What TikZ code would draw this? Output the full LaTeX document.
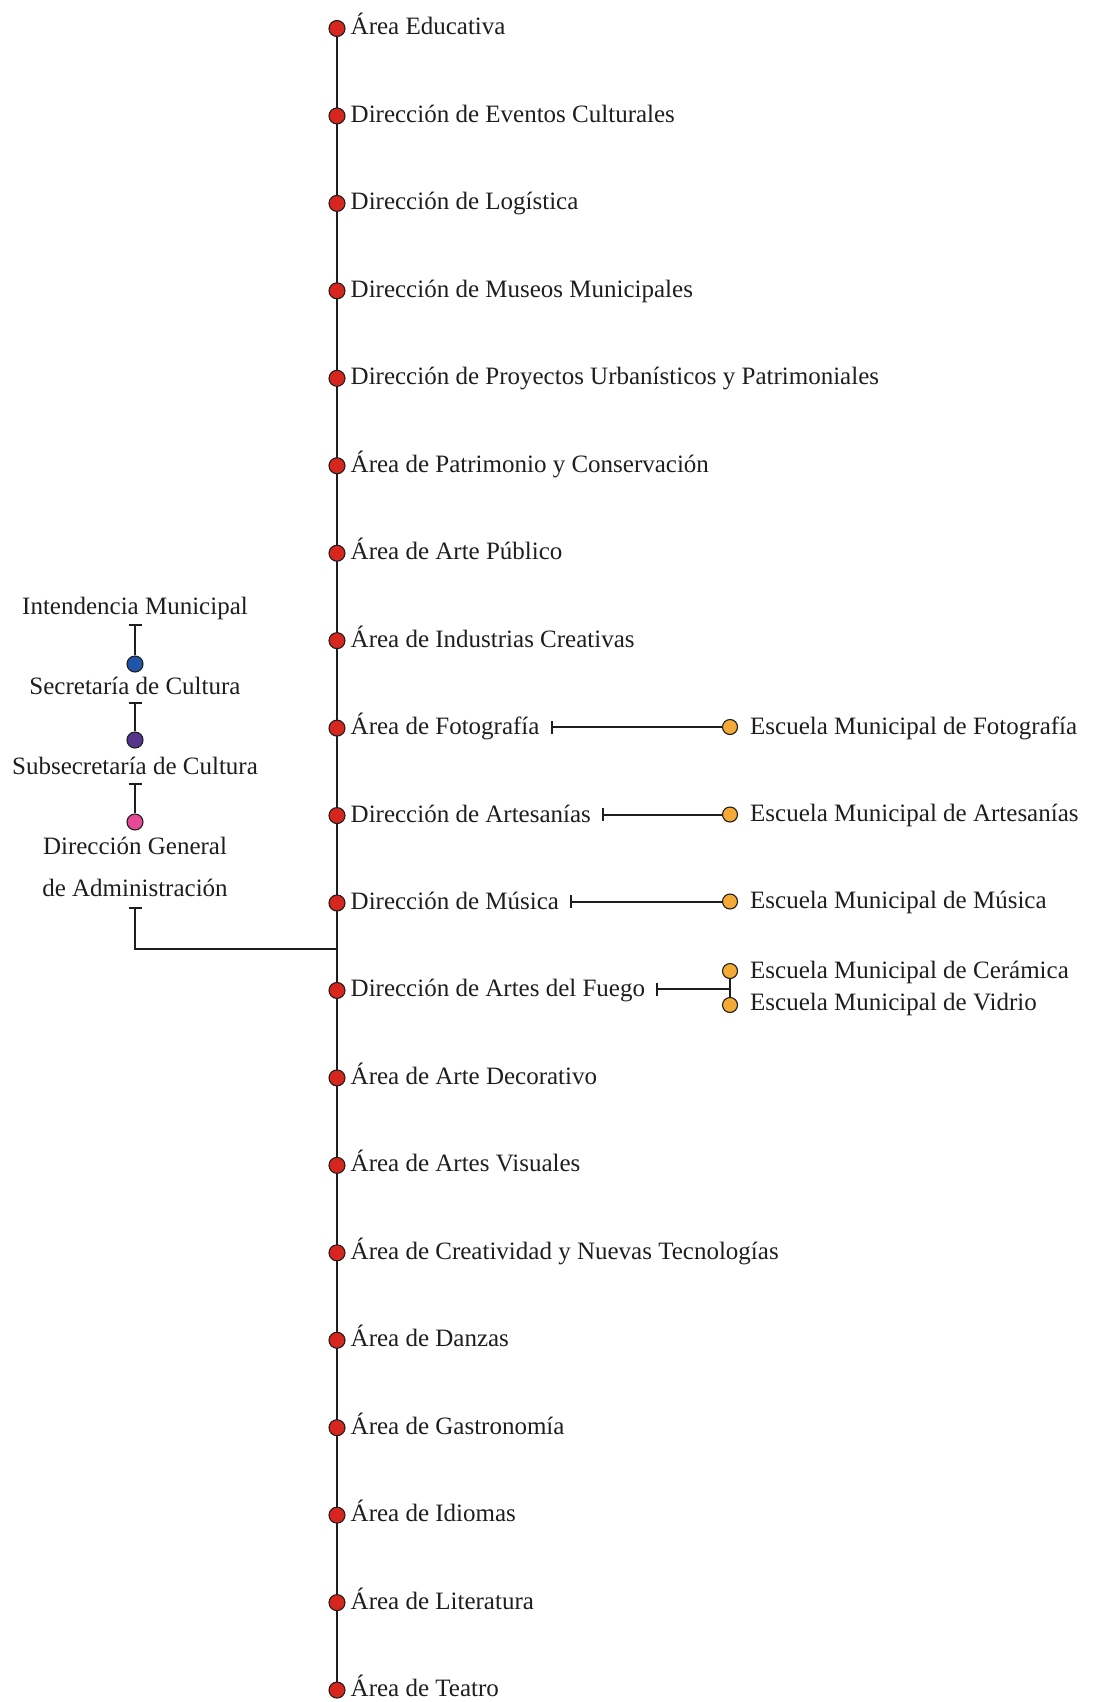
\documentclass[tikz,border=0pt]{standalone}
\usepackage{fontspec}
\setmainfont{Liberation Serif}
\usetikzlibrary{arrows.meta,backgrounds}
\definecolor{reddot}{RGB}{214,38,30}
\definecolor{bluedot}{RGB}{32,84,168}
\definecolor{purpledot}{RGB}{84,52,140}
\definecolor{pinkdot}{RGB}{232,72,152}
\definecolor{orangedot}{RGB}{245,170,55}
\definecolor{ink}{RGB}{30,30,30}
\begin{document}
\begin{tikzpicture}[x=1pt,y=-1pt,
  dotnode/.style={circle, draw=ink, line width=1.1pt, minimum size=16pt, inner sep=0pt},
  rdot/.style={dotnode, fill=reddot},
  odot/.style={dotnode, fill=orangedot, minimum size=15pt},
  lbl/.style={anchor=base west, inner sep=0pt, text=ink, font=\fontsize{25}{30}\selectfont},
  clbl/.style={anchor=base, inner sep=0pt, text=ink, font=\fontsize{25}{30}\selectfont},
  conn/.style={line width=2pt, draw=ink},
  teeconn/.style={conn, {Bar[width=13pt,line width=2pt]}-}
]
\useasboundingbox (0,0) rectangle (1097,1702);

% main column
\foreach \t [count=\i] in {Área Educativa, Dirección de Eventos Culturales, Dirección de Logística, Dirección de Museos Municipales, Dirección de Proyectos Urbanísticos y Patrimoniales, Área de Patrimonio y Conservación, Área de Arte Público, Área de Industrias Creativas, Área de Fotografía, Dirección de Artesanías, Dirección de Música, Dirección de Artes del Fuego, Área de Arte Decorativo, Área de Artes Visuales, Área de Creatividad y Nuevas Tecnologías, Área de Danzas, Área de Gastronomía, Área de Idiomas, Área de Literatura, Área de Teatro}{
  \pgfmathsetmacro{\yy}{28.5+87.45*(\i-1)}
  \node[rdot] (m\i) at (337,\yy) {};
  \node[lbl] (l\i) at (350.5,\yy+6.5) {\t};
}

% schools
\node[odot] (o9) at (730,727) {};
\node[lbl] (s9) at (750,734) {Escuela Municipal de Fotografía};
\node[odot] (o10) at (730,814.5) {};
\node[lbl] (s10) at (750,821.5) {Escuela Municipal de Artesanías};
\node[odot] (o11) at (730,901.5) {};
\node[lbl] (s11) at (750,908.5) {Escuela Municipal de Música};
\node[odot] (oc) at (730,971) {};
\node[lbl] (sc) at (750,978) {Escuela Municipal de Cerámica};
\node[odot] (ov) at (730,1005) {};
\node[lbl] (sv) at (750,1010) {Escuela Municipal de Vidrio};
\coordinate (jf) at (730,989);

% left hierarchy
\node[clbl] (int) at (135,614) {Intendencia Municipal};
\node[dotnode, fill=bluedot] (dblue) at (135,664) {};
\node[clbl] (sec) at (135,694) {Secretaría de Cultura};
\node[dotnode, fill=purpledot] (dpurp) at (135,740) {};
\node[clbl] (sub) at (135,774) {Subsecretaría de Cultura};
\node[dotnode, fill=pinkdot] (dpink) at (135,822) {};
\node[clbl] (dga1) at (135,854) {Dirección General};
\node[clbl] (dga2) at (135,896) {de Administración};
\coordinate (t1) at (135,624);
\coordinate (t2) at (135,702);
\coordinate (t3) at (135,783);
\coordinate (t4) at (135,907);
\coordinate (jn) at (337,949);

\begin{scope}[on background layer]
  \draw[conn] (m1) -- (m20);
  \draw[teeconn] (t1) -- (dblue);
  \draw[teeconn] (t2) -- (dpurp);
  \draw[teeconn] (t3) -- (dpink);
  \draw[teeconn] (t4) |- (jn);
  \draw[teeconn] ([xshift=11pt]l9.east |- o9) -- (o9);
  \draw[teeconn] ([xshift=11pt]l10.east |- o10) -- (o10);
  \draw[teeconn] ([xshift=11pt]l11.east |- o11) -- (o11);
  \draw[teeconn] ([xshift=11pt]l12.east |- jf) -- (jf);
  \draw[conn] (oc) -- (ov);
\end{scope}
\end{tikzpicture}
\end{document}
